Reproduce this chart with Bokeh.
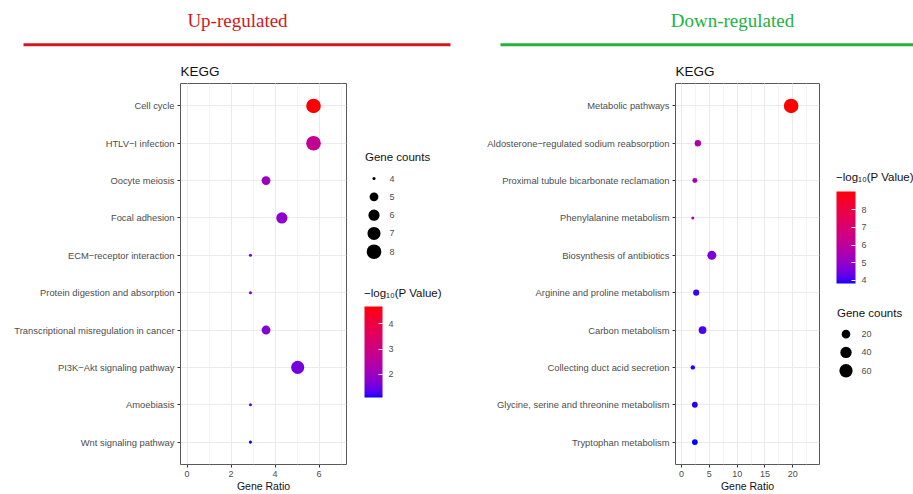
import numpy as np
from bokeh.plotting import figure
from bokeh.models import (ColumnDataSource, FactorRange, Range1d, LinearColorMapper, ColorBar,
                          FixedTicker, SingleIntervalTicker, Label, BoxAnnotation)
from bokeh.layouts import column, row
from bokeh.embed import file_html
from bokeh.resources import INLINE
from bokeh.core.properties import value

# ---------------- data ----------------
up_terms = ["Cell cycle", "HTLV\u2212I infection", "Oocyte meiosis", "Focal adhesion",
            "ECM\u2212receptor interaction", "Protein digestion and absorption",
            "Transcriptional misregulation in cancer", "PI3K\u2212Akt signaling pathway",
            "Amoebiasis", "Wnt signaling pathway"]
up_ratio = [5.75, 5.75, 3.59, 4.31, 2.88, 2.88, 3.59, 5.03, 2.88, 2.88]
up_count = [8, 8, 5, 6, 4, 4, 5, 7, 4, 4]
up_nlp = [4.68, 2.71, 1.99, 1.81, 1.63, 1.63, 1.70, 1.56, 1.52, 1.09]

down_terms = ["Metabolic pathways", "Aldosterone\u2212regulated sodium reabsorption",
              "Proximal tubule bicarbonate reclamation", "Phenylalanine metabolism",
              "Biosynthesis of antibiotics", "Arginine and proline metabolism",
              "Carbon metabolism", "Collecting duct acid secretion",
              "Glycine, serine and threonine metabolism", "Tryptophan metabolism"]
down_ratio = [19.7, 2.94, 2.40, 2.03, 5.45, 2.64, 3.78, 2.03, 2.40, 2.40]
down_count = [76, 9, 5, 3, 22, 8, 15, 4, 7, 7]
down_nlp = [9.03, 5.65, 5.49, 5.55, 4.61, 3.99, 4.09, 3.93, 3.93, 3.83]

up_size_breaks = [4, 5, 6, 7, 8]
down_size_breaks = [20, 40, 60]
up_color_ticks = [2, 3, 4]
down_color_ticks = [4, 5, 6, 7, 8]

FONT = "Liberation Sans"
GREY = "#4D4D4D"

# ------------- colour palette (CIELAB blue -> red, like ggplot gradient) -------------
def srgb_to_lab(rgb):
    def lin(c):
        c = c / 255
        return c / 12.92 if c <= 0.04045 else ((c + 0.055) / 1.055) ** 2.4
    r, g, b = [lin(c) for c in rgb]
    X = 0.4124564 * r + 0.3575761 * g + 0.1804375 * b
    Y = 0.2126729 * r + 0.7151522 * g + 0.0721750 * b
    Z = 0.0193339 * r + 0.1191920 * g + 0.9503041 * b
    def f(t):
        return t ** (1 / 3) if t > 216 / 24389 else (24389 / 27 * t + 16) / 116
    fx, fy, fz = f(X / 0.95047), f(Y / 1.0), f(Z / 1.08883)
    return (116 * fy - 16, 500 * (fx - fy), 200 * (fy - fz))

def lab_to_hex(L, a, b):
    fy = (L + 16) / 116
    fx = fy + a / 500
    fz = fy - b / 200
    def finv(t):
        return t ** 3 if t ** 3 > 216 / 24389 else (116 * t - 16) / (24389 / 27)
    X = 0.95047 * finv(fx); Y = finv(fy); Z = 1.08883 * finv(fz)
    r = 3.2404542 * X - 1.5371385 * Y - 0.4985314 * Z
    g = -0.9692660 * X + 1.8760108 * Y + 0.0415560 * Z
    bb = 0.0556434 * X - 0.2040259 * Y + 1.0572252 * Z
    def gam(c):
        c = min(max(c, 0), 1)
        return 12.92 * c if c <= 0.0031308 else 1.055 * c ** (1 / 2.4) - 0.055
    return "#%02x%02x%02x" % tuple(int(round(gam(c) * 255)) for c in (r, g, bb))

lab_lo = srgb_to_lab((0, 0, 255))
lab_hi = srgb_to_lab((255, 0, 0))
palette = [lab_to_hex(*[lo + (hi - lo) * t for lo, hi in zip(lab_lo, lab_hi)])
           for t in np.linspace(0, 1, 256)]

def point_size(counts, data_counts):
    c = np.asarray(counts, float)
    lo, hi = min(data_counts), max(data_counts)
    return 2.3 * (1 + 5 * np.sqrt(np.clip((c - lo) / (hi - lo), 0, 1))) + 0.8

# layout (screen px): header 0..50, panels 50..494, frames 83..465
HEAD_H = 50
MAIN_H = 444
TOP_B = 33
BOT_B = 29
FRAME_TOP, FRAME_BOT = 83, 465

def main_panel(terms, ratio, count, nlp, mapper, x_start, x_end, interval, width, bl, br):
    src = ColumnDataSource(dict(term=terms, ratio=ratio, count=count, nlp=nlp,
                                size=point_size(count, count)))
    yr = FactorRange(factors=list(reversed(terms)), range_padding=0.1,
                     range_padding_units="absolute")
    p = figure(width=width, height=MAIN_H, x_range=Range1d(x_start, x_end), y_range=yr,
               output_backend="svg", toolbar_location=None, title="KEGG",
               min_border_left=bl, min_border_right=br, min_border_top=TOP_B,
               min_border_bottom=BOT_B)
    p.scatter("ratio", "term", size="size", source=src,
              fill_color={"field": "nlp", "transform": mapper}, line_color=None)
    p.xaxis.ticker = SingleIntervalTicker(interval=interval, num_minor_ticks=2)
    p.xgrid.grid_line_color = "#EBEBEB"
    p.xgrid.minor_grid_line_color = "#F3F3F3"
    p.ygrid.grid_line_color = "#EBEBEB"
    p.outline_line_color = "#5a5a5a"
    p.outline_line_width = 1
    for ax in (p.xaxis[0], p.yaxis[0]):
        ax.axis_line_color = None
        ax.major_tick_line_color = "#333333"
        ax.major_tick_out = 3
        ax.major_tick_in = 0
        ax.minor_tick_line_color = None
        ax.major_label_text_font = FONT
        ax.major_label_text_color = GREY
    p.yaxis.major_label_text_font_size = "9.4px"
    p.yaxis.major_label_standoff = 3
    p.xaxis.major_label_text_font_size = "9px"
    p.xaxis.major_label_standoff = 2
    p.xaxis.axis_label = "Gene Ratio"
    p.xaxis.axis_label_text_font = FONT
    p.xaxis.axis_label_text_font_size = "10.5px"
    p.xaxis.axis_label_text_font_style = "normal"
    p.xaxis.axis_label_text_color = "#111111"
    p.xaxis.axis_label_standoff = 0
    p.title.text_font = FONT
    p.title.text_font_size = "13.5px"
    p.title.text_font_style = "normal"
    p.title.text_color = "#111111"
    p.title.align = "left"
    p.title.standoff = 10
    return p

def legend_panel(x0, width, counts, breaks, mapper, ticks, size_title_y, size_first_y,
                 bar_w, bar_top, bar_bot, cb_title_y):
    # frame spans the same screen rows as the dot-plot frames; ranges are screen px
    p = figure(width=width, height=MAIN_H, x_range=Range1d(x0, x0 + width),
               y_range=Range1d(FRAME_BOT, FRAME_TOP), output_backend="svg",
               toolbar_location=None, x_axis_location=None, y_axis_location=None,
               min_border_left=0, min_border_right=0, min_border_top=TOP_B,
               min_border_bottom=BOT_B)
    p.grid.visible = False
    p.outline_line_color = None
    step = 18.35
    ys = [size_first_y + step * i for i in range(len(breaks))]
    src = ColumnDataSource(dict(x=[x0 + 18.5] * len(breaks), tx=[x0 + 34] * len(breaks),
                                y=ys, size=point_size(breaks, counts),
                                label=[str(b) for b in breaks]))
    p.scatter("x", "y", size="size", source=src, fill_color="black", line_color=None)
    p.text("tx", "y", text="label", source=src, text_font=value(FONT),
           text_font_size="9px", text_color=GREY, text_baseline="middle")
    p.text(x=[x0 + 9.5], y=[size_title_y], text=["Gene counts"], text_font=value(FONT),
           text_font_size="11.5px", text_color="#111111", text_baseline="middle")
    p.text(x=[x0 + 8.5], y=[cb_title_y], text=["\u2212log\u2081\u2080(P Value)"],
           text_font=value(FONT), text_font_size="11.5px", text_color="#111111",
           text_baseline="middle")
    cb = ColorBar(color_mapper=mapper, ticker=FixedTicker(ticks=ticks), width=bar_w,
                  height=bar_bot - bar_top, location=(9, FRAME_BOT - bar_bot),
                  padding=0, margin=0,
                  major_label_text_font=FONT, major_label_text_font_size="9px",
                  major_label_text_color=GREY, label_standoff=6,
                  major_tick_line_color="white", major_tick_in=4, major_tick_out=0,
                  minor_tick_line_color=None, bar_line_color=None,
                  background_fill_color=None, border_line_color=None)
    p.add_layout(cb)
    return p

up_mapper = LinearColorMapper(palette=palette, low=min(up_nlp), high=max(up_nlp))
down_mapper = LinearColorMapper(palette=palette, low=min(down_nlp), high=max(down_nlp))

left_main = main_panel(up_terms, up_ratio, up_count, up_nlp, up_mapper,
                       -0.3, 7.25, 2, 355, 180, 9)
left_leg = legend_panel(355, 110, up_count, up_size_breaks, up_mapper, up_color_ticks,
                        157, 178.3, 18, 307, 398, 293)
right_main = main_panel(down_terms, down_ratio, down_count, down_nlp, down_mapper,
                        -1.08, 24.8, 5, 362, 210, 8)
right_leg = legend_panel(827, 86, down_count, down_size_breaks, down_mapper,
                         down_color_ticks, 313, 334.3, 19, 192, 284, 177)

# ---------------- header ----------------
HW = 913
header = figure(width=HW, height=HEAD_H, x_range=Range1d(0, HW), y_range=Range1d(HEAD_H, 0),
                output_backend="svg", toolbar_location=None, x_axis_location=None,
                y_axis_location=None, min_border=0)
header.grid.visible = False
header.outline_line_color = None
header.add_layout(Label(x=237, y=20, text="Up-regulated", text_align="center",
                        text_baseline="middle", text_font="Liberation Serif",
                        text_font_size="19px", text_color="#D0181E"))
header.add_layout(Label(x=732, y=20, text="Down-regulated", text_align="center",
                        text_baseline="middle", text_font="Liberation Serif",
                        text_font_size="19px", text_color="#22B23C"))
header.add_layout(BoxAnnotation(left=23, right=450, top=42.8, bottom=45.8,
                                fill_color="#D0181E", fill_alpha=1, line_color=None))
header.add_layout(BoxAnnotation(left=500, right=HW, top=42.8, bottom=45.8,
                                fill_color="#22B23C", fill_alpha=1, line_color=None))

layout = column(header, row(left_main, left_leg, right_main, right_leg))

with open("out.html", "w") as f:
    f.write(file_html(layout, INLINE))
